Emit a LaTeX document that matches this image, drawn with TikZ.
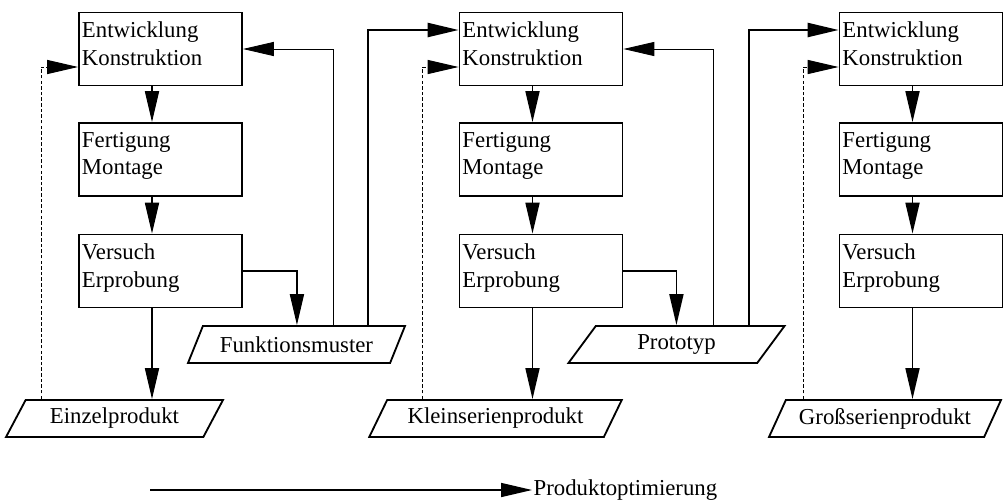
\documentclass[tikz,border=0pt]{standalone}
\usepackage{fontspec}
\setmainfont{Liberation Serif}
\usepackage{tikz}
\usetikzlibrary{positioning, arrows.meta, shapes.geometric, calc}
\newcommand{\stufe}[1]{\parbox[c][1.35cm][t]{3.925cm}{#1}}

\begin{document}
\begin{tikzpicture}[x=0.025cm, y=-0.025cm, every node/.style={font=\fontsize{16.2}{19.4}\selectfont}]
  \tikzset{stg/.style={draw, line width=1.3pt, inner xsep=0.075cm, inner ysep=0.2375cm},
    erg/.style={draw, line width=1.3pt, trapezium, trapezium left angle=63, trapezium right angle=117,
      trapezium stretches=true, minimum height=0.925cm, minimum width=5.425cm},
    spitze/.style={-{Triangle[length=22pt, width=10pt]}},
    pfeil/.style={line width=1.1pt, spitze},
    rueck/.style={line width=0.6pt, spitze},
    vor/.style={line width=1.5pt, spitze},
    gestr/.style={line width=0.7pt, dash pattern=on 2.5pt off 1.5pt, spitze}}
  \useasboundingbox (0,0) rectangle (1006,501);

  % Stufen
  \node[stg] (ek1) at (160.5,49) {\stufe{Entwicklung\\Konstruktion}};
  \node[stg] (fm1) at (160.5,159.5) {\stufe{Fertigung\\Montage}};
  \node[stg] (ve1) at (160.5,271) {\stufe{Versuch\\Erprobung}};
  \node[stg] (ek2) at (541,49) {\stufe{Entwicklung\\Konstruktion}};
  \node[stg] (fm2) at (541,159.5) {\stufe{Fertigung\\Montage}};
  \node[stg] (ve2) at (541,271) {\stufe{Versuch\\Erprobung}};
  \node[stg] (ek3) at (921,49) {\stufe{Entwicklung\\Konstruktion}};
  \node[stg] (fm3) at (921,159.5) {\stufe{Fertigung\\Montage}};
  \node[stg] (ve3) at (921,271) {\stufe{Versuch\\Erprobung}};

  % Ergebnisse
  \node[erg] (prod1) at (114.5,418.5) {Einzelprodukt};
  \node[erg] (muster) at (296.5,344.5) {Funktionsmuster};
  \node[erg, minimum width=6.325cm] (prod2) at (495.5,418.5) {Kleinserienprodukt};
  \node[erg] (proto) at (676.5,344.5) {Prototyp};
  \node[erg, minimum width=5.8cm] (prod3) at (885,418.5) {Großserienprodukt};

  % Hilfspunkte
  \coordinate (p1) at ($(ve1.south)+(-8.5,0)$);
  \coordinate (p2) at ($(ve2.south)+(-8.5,0)$);
  \coordinate (p3) at ($(ve3.south)+(-8.5,0)$);
  \coordinate (m1) at ($(ve1.east)+(54,0)$);
  \coordinate (m2) at ($(ve2.east)+(53,0)$);
  \coordinate (b1) at ($(ek1.east)+(90,0)$);
  \coordinate (b2) at ($(ek2.east)+(90,0)$);
  \coordinate (f1) at ($(ek2.west)+(-91,-19)$);
  \coordinate (f2) at ($(ek3.west)+(-90,-19)$);
  \coordinate (d1) at ($(ek1.west)+(-37,18)$);
  \coordinate (d2) at ($(ek2.west)+(-36,18)$);
  \coordinate (d3) at ($(ek3.west)+(-35,18)$);

  % Ablauf in den Spalten
  \draw[pfeil] ($(ek1.south)+(-8.5,0)$) -- ($(fm1.north)+(-8.5,0)$);
  \draw[pfeil] ($(fm1.south)+(-8.5,0)$) -- ($(ve1.north)+(-8.5,0)$);
  \draw[pfeil] (p1) -- (p1 |- prod1.north);
  \draw[pfeil] ($(ek2.south)+(-8.5,0)$) -- ($(fm2.north)+(-8.5,0)$);
  \draw[pfeil] ($(fm2.south)+(-8.5,0)$) -- ($(ve2.north)+(-8.5,0)$);
  \draw[pfeil] (p2) -- (p2 |- prod2.north);
  \draw[pfeil] ($(ek3.south)+(-8.5,0)$) -- ($(fm3.north)+(-8.5,0)$);
  \draw[pfeil] ($(fm3.south)+(-8.5,0)$) -- ($(ve3.north)+(-8.5,0)$);
  \draw[pfeil] (p3) -- (p3 |- prod3.north);

  % Muster und Prototyp
  \draw[pfeil] (ve1.east) -- (m1) -- (m1 |- muster.north);
  \draw[pfeil] (ve2.east) -- (m2) -- (m2 |- proto.north);
  \draw[rueck] (b1 |- muster.north) -- (b1) -- (ek1.east);
  \draw[rueck] (b2 |- proto.north) -- (b2) -- (ek2.east);
  \draw[vor] (f1 |- muster.north) -- (f1) -- (f1 -| ek2.west);
  \draw[vor] (f2 |- proto.north) -- (f2) -- (f2 -| ek3.west);

  % gestrichelte Rueckfuehrung
  \draw[gestr] (d1 |- prod1.north) -- (d1) -- (d1 -| ek1.west);
  \draw[gestr] (d2 |- prod2.north) -- (d2) -- (d2 -| ek2.west);
  \draw[gestr] (d3 |- prod3.north) -- (d3) -- (d3 -| ek3.west);

  % Produktoptimierung
  \coordinate (opt0) at (150,490);
  \node[anchor=west, inner sep=1pt] (opt) at (532,490) {Produktoptimierung};
  \draw[pfeil, line width=0.9pt] (opt0) -- (opt.west);
\end{tikzpicture}
\end{document}
